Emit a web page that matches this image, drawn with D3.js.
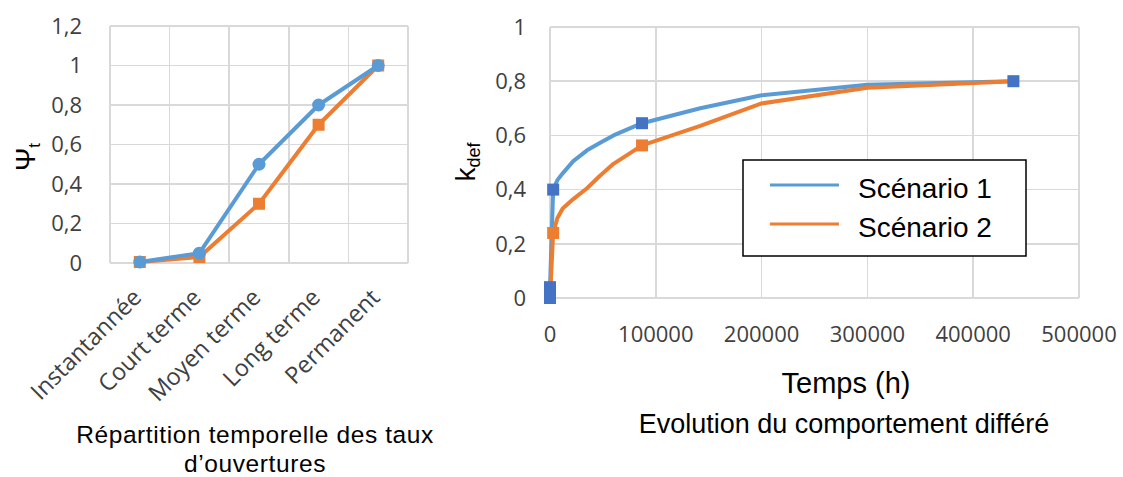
<!DOCTYPE html>
<html lang="fr">
<head>
<meta charset="utf-8">
<title>Taux d'ouvertures et comportement différé</title>
<script src="https://cdn.jsdelivr.net/npm/d3@7/dist/d3.min.js"></script>
<style>
body { margin: 0; background: #fff; }
.grid line, .frame { stroke: #d9d9d9; stroke-width: 1.5; fill: none; shape-rendering: crispEdges; }
.tick-label { font-family: "Open Sans", sans-serif; font-size: 22px; fill: #404040; }
.title { font-family: "Liberation Sans", Arial, sans-serif; font-size: 26px; fill: #000; }
</style>
</head>
<body>
<svg width="1123" height="477"></svg>
<script>

// left chart: Psi_t per category
var categories = ["Instantannée", "Court terme", "Moyen terme", "Long terme", "Permanent"];
var psiBlue   = [0.005, 0.05, 0.5, 0.8, 1];
var psiOrange = [0.005, 0.03, 0.3, 0.7, 1];
var psiTicks  = [0, 0.2, 0.4, 0.6, 0.8, 1, 1.2];

// right chart: k_def vs time (h)
var scen1 = [[0, 0], [0, 0.04], [3000, 0.4], [7000, 0.435], [12000, 0.46], [22000, 0.505],
             [35000, 0.545], [47000, 0.572], [60000, 0.6], [87000, 0.645], [142000, 0.7],
             [200000, 0.748], [300000, 0.787], [438000, 0.8]];
var scen2 = [[0, 0], [3000, 0.24], [7000, 0.295], [12000, 0.33], [22000, 0.365], [35000, 0.405],
             [47000, 0.45], [60000, 0.495], [87000, 0.563], [142000, 0.635],
             [200000, 0.718], [300000, 0.776], [438000, 0.8]];
var scen1Markers = [[0, 0], [0, 0.04], [3000, 0.4], [87000, 0.645], [438000, 0.8]];
var scen2Markers = [[3000, 0.24], [87000, 0.563]];
var kTicks = [0, 0.2, 0.4, 0.6, 0.8, 1];
var timeTicks = [0, 100000, 200000, 300000, 400000, 500000];
var seriesNames = ["Scénario 1", "Scénario 2"];

var blue = "#5b9bd5", orange = "#ed7d31", darkBlue = "#4472c4";
var comma = function(v) { return String(+v.toFixed(1)).replace(".", ","); };

var svg = d3.select("svg");

// ---------- left chart ----------
var x1 = d3.scaleBand().domain(categories).range([110, 408]);
var y1 = d3.scaleLinear().domain([0, 1.2]).range([263, 26]);

var g1 = svg.append("g");

g1.append("g").attr("class", "grid")
  .selectAll("line").data(psiTicks).enter().append("line")
    .attr("x1", 110).attr("x2", 408)
    .attr("y1", function(d) { return y1(d); })
    .attr("y2", function(d) { return y1(d); });

g1.append("g").attr("class", "grid")
  .selectAll("line").data(categories.concat(["end"])).enter().append("line")
    .attr("x1", function(d, i) { return 110 + i * x1.bandwidth(); })
    .attr("x2", function(d, i) { return 110 + i * x1.bandwidth(); })
    .attr("y1", 26).attr("y2", 263);

g1.selectAll(".ylab").data(psiTicks).enter().append("text")
    .attr("class", "tick-label")
    .attr("x", 82)
    .attr("y", function(d) { return y1(d); })
    .attr("dy", "0.35em")
    .attr("text-anchor", "end")
    .text(comma);

g1.selectAll(".xlab").data(categories).enter().append("text")
    .attr("class", "tick-label")
    .attr("text-anchor", "end")
    .style("font-size", "23.5px")
    .attr("transform", function(d) {
      return "translate(" + (x1(d) + x1.bandwidth() / 2 + 3) + ",299) rotate(-45)";
    })
    .text(function(d) { return d; });

var cx = function(d, i) { return x1(categories[i]) + x1.bandwidth() / 2; };
var line1 = d3.line().x(cx).y(function(d) { return y1(d); });

g1.append("path").datum(psiOrange)
    .attr("d", line1).attr("fill", "none")
    .attr("stroke", orange).attr("stroke-width", 4).attr("stroke-linejoin", "round");
g1.selectAll(".sqL").data(psiOrange).enter().append("rect")
    .attr("x", function(d, i) { return cx(d, i) - 6; })
    .attr("y", function(d) { return y1(d) - 6; })
    .attr("width", 12).attr("height", 12)
    .attr("fill", orange);

g1.append("path").datum(psiBlue)
    .attr("d", line1).attr("fill", "none")
    .attr("stroke", blue).attr("stroke-width", 4).attr("stroke-linejoin", "round");
g1.selectAll(".cirL").data(psiBlue).enter().append("circle")
    .attr("cx", cx)
    .attr("cy", function(d) { return y1(d); })
    .attr("r", 6.5)
    .attr("fill", blue);

// y title: Psi_t
var psiTitle = g1.append("text")
    .attr("class", "title")
    .attr("transform", "translate(35,157) rotate(-90)")
    .attr("text-anchor", "middle")
    .style("font-size", "28px");
psiTitle.append("tspan").text("Ψ");
psiTitle.append("tspan").attr("dy", 5).style("font-size", "17px").text("t");

g1.append("text").attr("class", "title")
    .attr("x", 255).attr("y", 443).attr("text-anchor", "middle")
    .style("font-size", "24.5px").style("letter-spacing", "0.6px")
    .text("Répartition temporelle des taux");
g1.append("text").attr("class", "title")
    .attr("x", 255).attr("y", 472).attr("text-anchor", "middle")
    .style("font-size", "24.5px").style("letter-spacing", "0.6px")
    .text("d’ouvertures");

// ---------- right chart ----------
var x2 = d3.scaleLinear().domain([0, 500000]).range([550, 1079]);
var y2 = d3.scaleLinear().domain([0, 1]).range([298, 27]);

var g2 = svg.append("g");

g2.append("g").attr("class", "grid")
  .selectAll("line").data(kTicks).enter().append("line")
    .attr("x1", x2(0)).attr("x2", x2(500000))
    .attr("y1", function(d) { return y2(d); })
    .attr("y2", function(d) { return y2(d); });

g2.append("g").attr("class", "grid")
  .selectAll("line").data(timeTicks).enter().append("line")
    .attr("x1", function(d) { return x2(d); })
    .attr("x2", function(d) { return x2(d); })
    .attr("y1", y2(1)).attr("y2", y2(0));

g2.selectAll(".ylab").data(kTicks).enter().append("text")
    .attr("class", "tick-label")
    .attr("x", 526)
    .attr("y", function(d) { return y2(d); })
    .attr("dy", "0.35em")
    .attr("text-anchor", "end")
    .text(comma);

g2.selectAll(".xlab").data(timeTicks).enter().append("text")
    .attr("class", "tick-label")
    .attr("x", function(d) { return x2(d); })
    .attr("y", 342)
    .attr("text-anchor", "middle")
    .text(function(d) { return d; });

var line2 = d3.line()
    .x(function(d) { return x2(d[0]); })
    .y(function(d) { return y2(d[1]); });

g2.append("path").datum(scen1)
    .attr("d", line2).attr("fill", "none")
    .attr("stroke", blue).attr("stroke-width", 4).attr("stroke-linejoin", "round");
g2.append("path").datum(scen2)
    .attr("d", line2).attr("fill", "none")
    .attr("stroke", orange).attr("stroke-width", 4).attr("stroke-linejoin", "round");

g2.selectAll(".sq2").data(scen2Markers).enter().append("rect")
    .attr("x", function(d) { return x2(d[0]) - 6; })
    .attr("y", function(d) { return y2(d[1]) - 6; })
    .attr("width", 12).attr("height", 12)
    .attr("fill", orange);
g2.selectAll(".sq1").data(scen1Markers).enter().append("rect")
    .attr("x", function(d) { return x2(d[0]) - 6; })
    .attr("y", function(d) { return y2(d[1]) - 6; })
    .attr("width", 12).attr("height", 12)
    .attr("fill", darkBlue);

// y title: k_def
var kTitle = g2.append("text")
    .attr("class", "title")
    .attr("transform", "translate(475,162) rotate(-90)")
    .attr("text-anchor", "middle")
    .style("font-size", "28px");
kTitle.append("tspan").text("k");
kTitle.append("tspan").attr("dy", 5).style("font-size", "18px").text("def");

g2.append("text").attr("class", "title")
    .attr("x", 846).attr("y", 393).attr("text-anchor", "middle")
    .style("font-size", "29px")
    .text("Temps (h)");
g2.append("text").attr("class", "title")
    .attr("x", 844).attr("y", 433).attr("text-anchor", "middle")
    .style("font-size", "27px")
    .text("Evolution du comportement différé");

// legend
var legend = g2.append("g");
legend.append("rect")
    .attr("x", 743).attr("y", 160).attr("width", 283).attr("height", 96)
    .attr("fill", "#fff").attr("stroke", "#000").attr("stroke-width", 1.5);
var item = legend.selectAll(".item").data(seriesNames).enter().append("g")
    .attr("transform", function(d, i) { return "translate(0," + (185 + i * 39) + ")"; });
item.append("line")
    .attr("x1", 770).attr("x2", 839)
    .attr("stroke", function(d, i) { return i === 0 ? blue : orange; })
    .attr("stroke-width", 3);
item.append("text")
    .attr("class", "title")
    .attr("x", 858).attr("y", 13)
    .style("font-size", "28px")
    .text(function(d) { return d; });

</script>
</body>
</html>
